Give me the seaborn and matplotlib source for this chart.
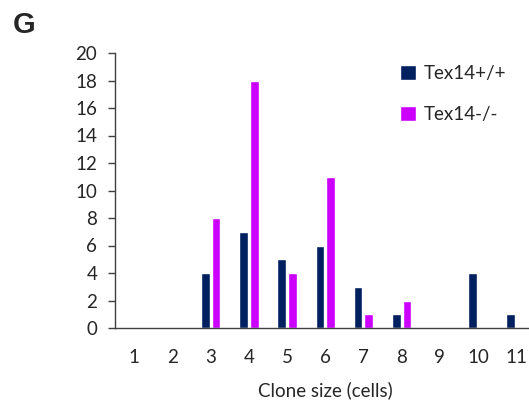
import matplotlib
matplotlib.use("Agg")
import matplotlib.pyplot as plt
import seaborn as sns
import pandas as pd
import numpy as np

categories = ["1", "2", "3", "4", "5", "6", "7", "8", "9", "10", "11"]
wt_values = [0, 0, 4, 7, 5, 6, 3, 1, 0, 4, 1]
ko_values = [0, 0, 8, 18, 4, 11, 1, 2, 0, 0, 0]
series_names = ["Tex14+/+", "Tex14-/-"]
colors = ["#002060", "#CC00FF"]
y_ticks = list(range(0, 21, 2))

df = pd.DataFrame({
    "size": categories * 2,
    "count": wt_values + ko_values,
    "genotype": [series_names[0]] * len(categories) + [series_names[1]] * len(categories),
})

sns.set_style("white")
plt.rcParams["font.family"] = ["Lato", "DejaVu Sans"]

fig = plt.figure(figsize=(5.29, 4.01), dpi=100)
ax = fig.add_axes([115.3 / 529, 1 - 328 / 401, (535.2 - 115.3) / 529, (328 - 53) / 401])

sns.barplot(data=df, x="size", y="count", hue="genotype", order=categories,
            hue_order=series_names, palette=colors, width=0.56, gap=0.2,
            ax=ax, legend=True, saturation=1)

fs = 13.5
ax.set_xlim(-0.5, len(categories) - 0.5)
ax.set_ylim(0, 20)
ax.set_yticks(y_ticks)
ax.set_yticklabels([str(t) for t in y_ticks], fontsize=fs)
ax.tick_params(axis="x", which="major", length=0, labelsize=fs, pad=15)
ax.set_xticks(np.arange(-0.5, len(categories), 1), minor=True)
ax.tick_params(axis="x", which="minor", length=5, width=1, color="#404040", direction="out")
ax.tick_params(axis="y", which="major", length=5, width=1, color="#404040", direction="out", left=True, pad=8)
ax.set_xlabel("Clone size (cells)", fontsize=fs, labelpad=11)
ax.set_ylabel("")
for s in ["top", "right"]:
    ax.spines[s].set_visible(False)
for s in ["left", "bottom"]:
    ax.spines[s].set_color("#404040")
    ax.spines[s].set_linewidth(1)

leg = ax.legend(loc="upper left", bbox_to_anchor=((383 - 115.3) / (535.2 - 115.3), 1.018),
                frameon=False, fontsize=fs, handlelength=0.85, handleheight=0.85,
                handletextpad=0.45, labelspacing=1.29)

fig.text(13 / 529, 1 - 33 / 401, "G", fontsize=21, fontweight="bold", family="Liberation Sans")

fig.savefig("out.png", dpi=100)
